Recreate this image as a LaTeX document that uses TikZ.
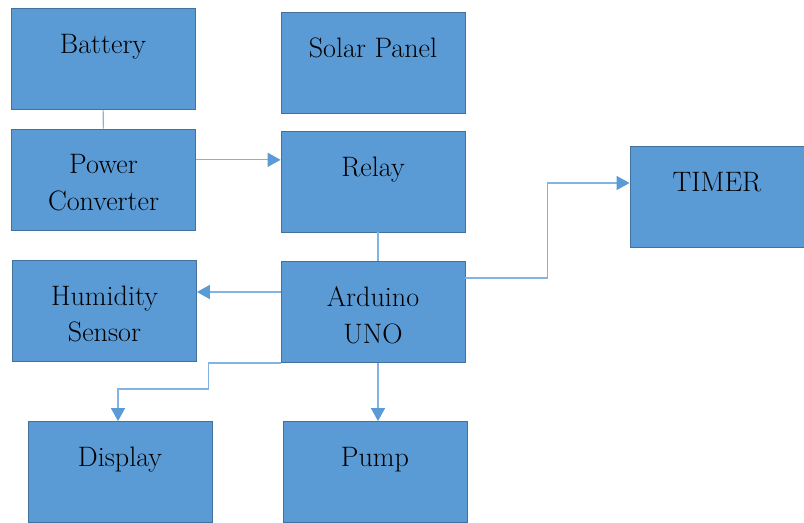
\documentclass[tikz,border=0pt]{standalone}
\usetikzlibrary{arrows.meta}
\definecolor{boxfill}{HTML}{5B9BD5}
\definecolor{boxline}{HTML}{41719C}
\definecolor{wire}{HTML}{82B3E3}
\tikzset{
  blk/.style={draw=boxline, fill=boxfill, line width=0.8pt, minimum width=5.52cm, minimum height=3.03cm},
  lbl/.style={anchor=north, yshift=-22pt, inner sep=0pt, align=center, font=\fontsize{24}{31}\selectfont},
  conn/.style={draw=wire, line width=0.9pt, -{Triangle[width=12pt,length=11pt,color=boxfill]}},
  wireline/.style={draw=wire, line width=0.9pt}
}
\begin{document}
\begin{tikzpicture}[x=0.03cm, y=-0.03cm]
  \useasboundingbox (0,0) rectangle (804,522);
  \node[blk, label={[lbl]north:Battery}] (bat) at (103, 59) {};
  \node[blk, label={[lbl]north:Solar Panel}] (sol) at (373, 62.5) {};
  \node[blk, label={[lbl]north:Power\\Converter}] (conv) at (103.5, 179.5) {};
  \node[blk, label={[lbl]north:Relay}] (rel) at (373, 181.5) {};
  \node[blk, minimum width=5.22cm, label={[lbl]north:TIMER}] (tim) at (717, 197) {};
  \node[blk, label={[lbl]north:Humidity\\Sensor}] (hum) at (104.5, 311) {};
  \node[blk, label={[lbl]north:Arduino\\UNO}] (ard) at (373, 312) {};
  \node[blk, label={[lbl]north:Display}] (disp) at (120, 472) {};
  \node[blk, label={[lbl]north:Pump}] (pump) at (375, 472) {};
  \draw[wireline] (bat) -- (conv);
  \draw[conn] ([yshift=0.59cm]conv.east) -- ([yshift=0.59cm]conv.east -| rel.west);
  \draw[wireline] ([xshift=0.15cm]rel.south) -- ([xshift=0.15cm]ard.north);
  \draw[conn] ([yshift=1.02cm]ard.east) -- ++(2.46cm,0) |- ([yshift=0.42cm]tim.west);
  \draw[conn] ([yshift=0.6cm]ard.west) -- ([yshift=0.6cm]ard.west -| hum.east);
  \draw[conn] (ard.south west) -- ++(-2.16cm,0) -- ++(0,-0.78cm) -| ([xshift=-0.06cm]disp.north);
  \draw[conn] ([xshift=0.15cm]ard.south) -- ([xshift=0.15cm]ard.south |- pump.north);
\end{tikzpicture}
\end{document}
